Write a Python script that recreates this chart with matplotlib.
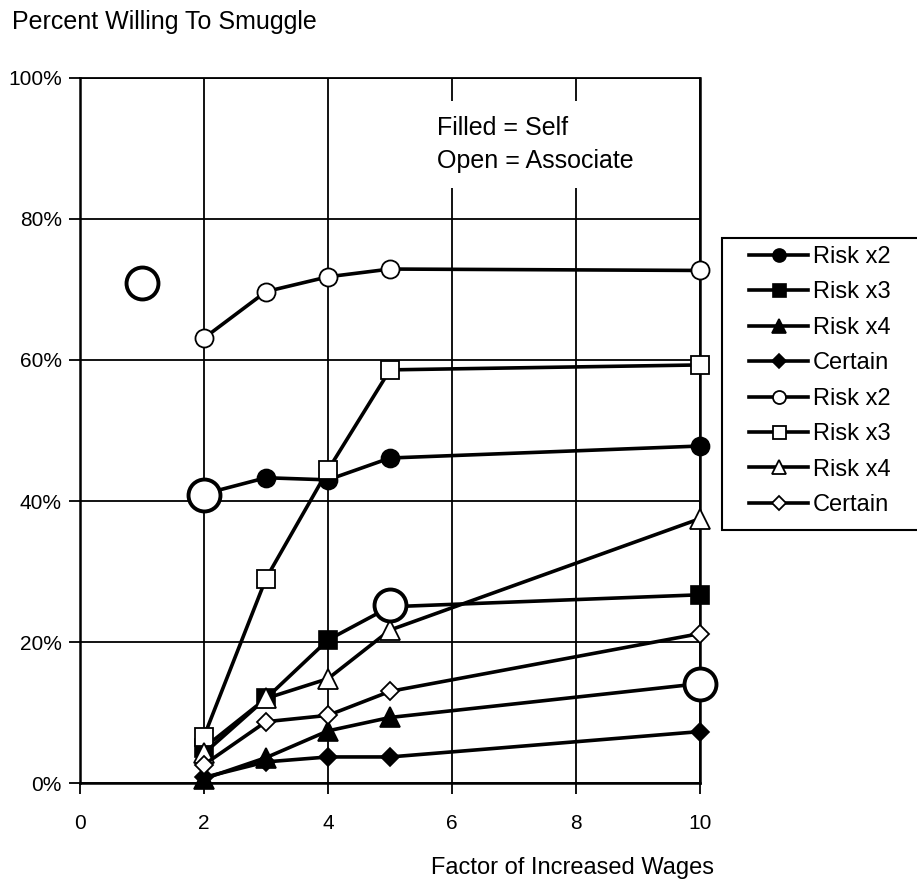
import matplotlib
matplotlib.use('Agg')
import matplotlib.pyplot as plt
from matplotlib.patches import Rectangle
from matplotlib.ticker import PercentFormatter

plt.rcParams['font.family'] = ['Liberation Sans', 'DejaVu Sans']

# wage factors and survey answers (fraction willing)
wages = [2, 3, 4, 5, 10]

self_risk2 = [0.41, 0.433, 0.43, 0.461, 0.478]
self_risk3 = [0.05, 0.12, 0.203, 0.25, 0.267]
self_risk4 = [0.006, 0.036, 0.074, 0.093, 0.141]
self_certain = [0.008, 0.030, 0.037, 0.037, 0.073]

assoc_risk2 = [0.631, 0.697, 0.718, 0.729, 0.727]
assoc_risk3 = [0.066, 0.290, 0.444, 0.586, 0.593]
assoc_risk4 = [0.042, 0.120, 0.148, 0.217, 0.375]
assoc_certain = [0.026, 0.087, 0.096, 0.130, 0.212]

# highlighted points (large open circles, no line)
big_x = [1, 2, 5, 10]
big_y = [0.709, 0.409, 0.252, 0.141]

labels = ['Risk x2', 'Risk x3', 'Risk x4', 'Certain']
markers = ['o', 's', '^', 'D']
msizes = [13, 13, 14, 9.5]

fig = plt.figure(figsize=(9.17, 8.82), dpi=100)
ax = fig.add_axes([0.0872, 0.1122, 0.6762, 0.7994])

handles = []
for ys, lab, m, ms in zip([self_risk2, self_risk3, self_risk4, self_certain], labels, markers, msizes):
    ln, = ax.plot(wages, ys, color='black', lw=2.6, marker=m, ms=ms,
                  mfc='black', mec='black', mew=1.2, clip_on=False, zorder=4)
    handles.append((ln, lab))

for ys, lab, m, ms in zip([assoc_risk2, assoc_risk3, assoc_risk4, assoc_certain], labels, markers, msizes):
    ln, = ax.plot(wages, ys, color='black', lw=2.6, marker=m, ms=ms,
                  mfc='white', mec='black', mew=1.3, clip_on=False, zorder=5)
    handles.append((ln, lab))

ax.plot(big_x, big_y, ls='none', marker='o', ms=23, mfc='white', mec='black',
        mew=2.8, clip_on=False, zorder=6)

ax.set_xlim(0, 10)
ax.set_ylim(0, 1)
ax.set_xticks([0, 2, 4, 6, 8, 10])
ax.set_yticks([0, 0.2, 0.4, 0.6, 0.8, 1.0])
ax.yaxis.set_major_formatter(PercentFormatter(1.0, decimals=0))
ax.grid(True, color='black', lw=1.3, zorder=1)
ax.set_axisbelow(True)
ax.tick_params(direction='out', length=8, width=1.3, labelsize=15)
ax.tick_params(axis='x', pad=14)
ax.tick_params(axis='y', pad=5)
for s in ax.spines.values():
    s.set_linewidth(1.8)
ax.spines['top'].set_linewidth(1.3)

fig.text(0.013, 0.975, 'Percent Willing To Smuggle', fontsize=18, va='center', ha='left')
ax.set_xlabel('Factor of Increased Wages', fontsize=17)
ax.xaxis.set_label_coords(0.795, -0.105)

# note box hides the gridlines behind it
ax.text(5.75, 0.906, 'Filled = Self\nOpen = Associate', fontsize=18, va='center', ha='left',
        linespacing=1.45, zorder=3,
        bbox=dict(facecolor='white', edgecolor='none', pad=11))

# legend frame runs off the right edge of the figure
fig.patches.append(Rectangle((722 / 917, 1 - 530 / 882), 0.3, (530 - 238) / 882,
                             transform=fig.transFigure, facecolor='white',
                             edgecolor='black', lw=1.5, zorder=0))
leg = fig.legend([h[0] for h in handles], [h[1] for h in handles],
                 loc='upper left', bbox_to_anchor=(749 / 917, 1 - 246 / 882),
                 fontsize=17, frameon=False,
                 handlelength=2.5, labelspacing=0.57, markerscale=0.72,
                 borderpad=0, handletextpad=0.2, borderaxespad=0)

fig.savefig('out.png', dpi=100)
